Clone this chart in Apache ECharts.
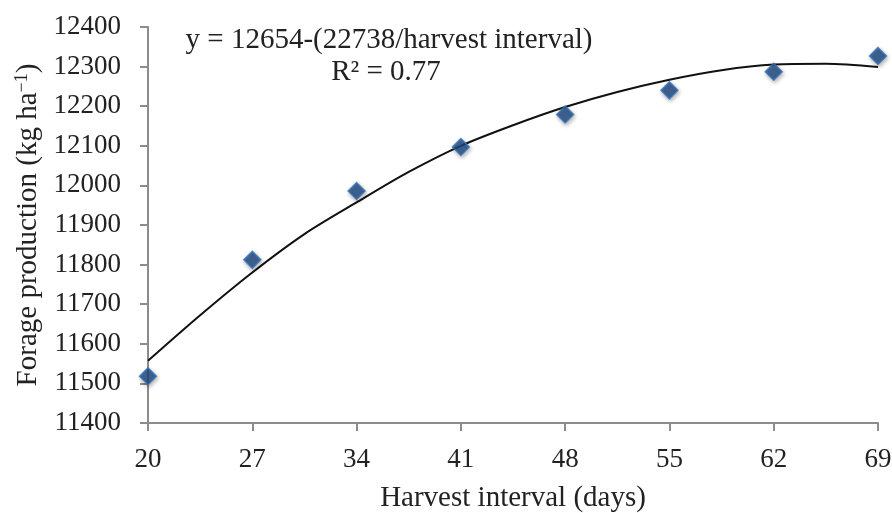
<!DOCTYPE html>
<html>
<head>
<meta charset="utf-8">
<script src="https://cdn.jsdelivr.net/npm/echarts@6/dist/echarts.min.js"></script>
<style>
  html, body { margin: 0; padding: 0; background: #fff; }
  #forageChart { width: 892px; height: 513px; }
</style>
</head>
<body>
<div id="forageChart"></div>
<script>
// harvest intervals (days) and observed forage production
const intervals = [20, 27, 34, 41, 48, 55, 62, 69]
const production = [11518, 11812, 11986, 12097, 12179, 12240, 12287, 12327]

// fitted trend line
const trendX = [20, 23.5, 27, 30.5, 34, 37.5, 41, 44.5, 48, 51.5, 55, 58.5, 62, 65.5, 69]
const trendY = [11557, 11672, 11780, 11877, 11957, 12034, 12100, 12152, 12198, 12236, 12267, 12291, 12305, 12307, 12299]

const eqText = 'y = 12654-(22738/harvest interval)'
const r2Text = 'R² = 0.77'

const font = 'Liberation Serif'
const axisGray = '#8c8c8c'

let myChart = echarts.init(document.getElementById('forageChart'))
myChart.setOption({
  animation: false,
  grid: {
    left: 148,
    right: 14,
    top: 27,
    bottom: 90,
    containLabel: false,
    outerBoundsMode: 'none'
  },
  xAxis: {
    type: 'value',
    min: 20,
    max: 69,
    interval: 7,
    name: 'Harvest interval (days)',
    nameLocation: 'middle',
    nameGap: 61,
    nameTextStyle: { fontFamily: font, fontSize: 29, color: '#222' },
    splitLine: { show: false },
    axisLine: { show: true, lineStyle: { color: axisGray, width: 2 } },
    axisTick: { show: true, length: 8, lineStyle: { color: axisGray, width: 2 } },
    axisLabel: { fontFamily: font, fontSize: 27, color: '#222', margin: 23 }
  },
  yAxis: {
    type: 'value',
    min: 11400,
    max: 12400,
    interval: 100,
    name: '{n|Forage production (kg ha}{s|−1}{n|)}',
    nameLocation: 'middle',
    nameGap: 104,
    nameTextStyle: {
      fontFamily: font, fontSize: 29, color: '#222',
      rich: {
        n: { fontFamily: font, fontSize: 29, color: '#222' },
        s: { fontFamily: font, fontSize: 18, color: '#222', verticalAlign: 'top', padding: [0, 0, 12, 0] }
      }
    },
    splitLine: { show: false },
    axisLine: { show: true, lineStyle: { color: axisGray, width: 2 } },
    axisTick: { show: true, length: 8, lineStyle: { color: axisGray, width: 2 } },
    axisLabel: {
      fontFamily: font, fontSize: 27, color: '#222', margin: 27,
      formatter: (v) => String(v)
    }
  },
  graphic: [
    {
      type: 'text',
      x: 389,
      y: 40,
      style: {
        text: eqText, font: '29px "Liberation Serif"', fill: '#222',
        textAlign: 'center', textVerticalAlign: 'middle'
      }
    },
    {
      type: 'text',
      x: 386,
      y: 72,
      style: {
        text: r2Text, font: '29px "Liberation Serif"', fill: '#222',
        textAlign: 'center', textVerticalAlign: 'middle'
      }
    }
  ],
  series: [
    {
      name: 'trend',
      type: 'line',
      smooth: 0.3,
      showSymbol: false,
      data: trendX.map((x, i) => [x, trendY[i]]),
      lineStyle: { color: '#111', width: 2 },
      z: 2
    },
    {
      name: 'observed',
      type: 'scatter',
      symbol: 'diamond',
      symbolSize: [17, 17],
      data: intervals.map((x, i) => [x, production[i]]),
      itemStyle: {
        color: '#1c4a84',
        borderColor: '#3a76bb',
        borderWidth: 1.5,
        shadowBlur: 4,
        shadowColor: 'rgba(0,0,0,0.35)',
        shadowOffsetX: 1,
        shadowOffsetY: 2
      },
      z: 3
    }
  ]
})
</script>
</body>
</html>
